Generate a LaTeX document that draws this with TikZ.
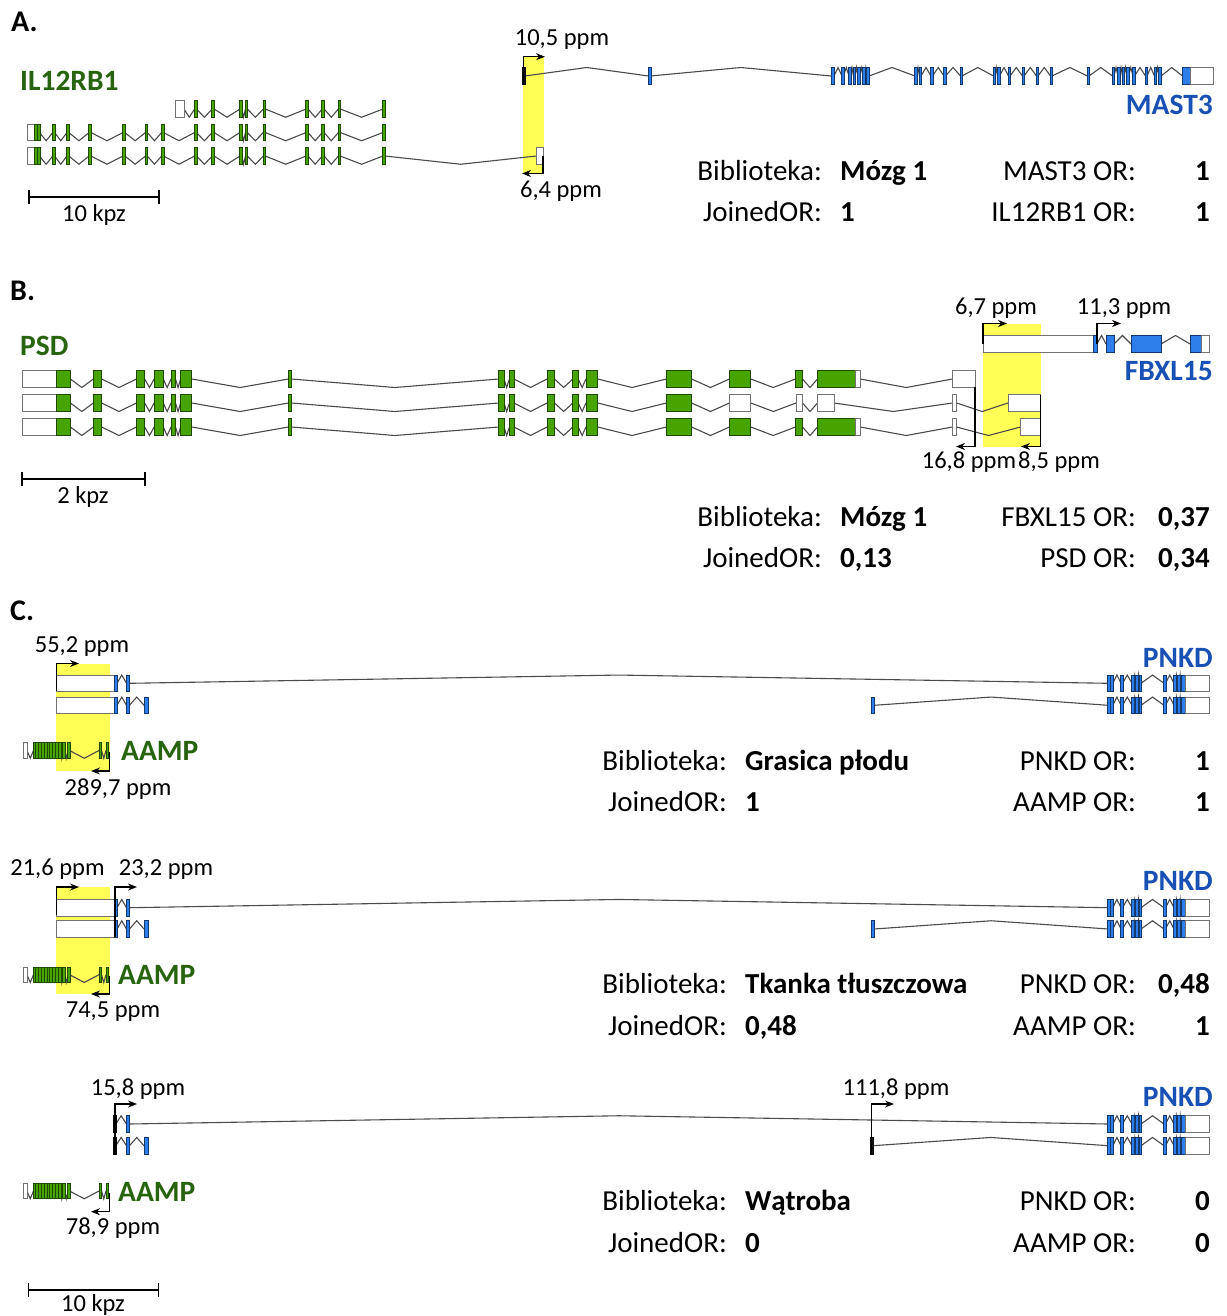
\documentclass[tikz,border=0pt]{standalone}
\usepackage{fontspec}
\setmainfont{Carlito}
\usetikzlibrary{arrows.meta}
\definecolor{cg}{RGB}{71,163,0}
\definecolor{cb}{RGB}{45,125,235}
\definecolor{cw}{RGB}{255,255,255}
\definecolor{ck}{RGB}{20,20,20}
\definecolor{gtext}{RGB}{40,100,15}
\definecolor{btext}{RGB}{25,80,180}
\definecolor{yel}{RGB}{255,255,85}
\definecolor{introncol}{RGB}{75,75,75}
\tikzset{
  intron/.style={draw=introncol, line width=1.1pt},
  exon/.style={line width=0.7pt},
  tss/.style={draw=black, line width=1.4pt, -{Stealth[length=9pt,width=7pt]}},
  tab/.style={font=\fontsize{29}{34}\selectfont, inner sep=0pt},
  tabb/.style={font=\fontsize{29}{34}\selectfont\bfseries, inner sep=0pt},
  ppm/.style={font=\fontsize{24.5}{29}\selectfont, inner sep=0pt},
  gname/.style={font=\fontsize{29.5}{34}\selectfont\bfseries, inner sep=0pt, text=gtext},
  bname/.style={font=\fontsize{29.5}{34}\selectfont\bfseries, inner sep=0pt, text=btext},
  sec/.style={font=\fontsize{30}{34}\selectfont\bfseries, inner sep=0pt},
  sbar/.style={line width=1.4pt},
  hilite/.style={fill=yel, draw=none}
}
% #1 centre y, #2 height, #3 direction of intron apex (1 down, -1 up), #4 exon list a/b/colour
\newcommand\tx[4]{%
  \edef\txlist{#4}%
  \gdef\txprev{}%
  \foreach \xa/\xb/\xc in \txlist {%
    \ifx\txprev\empty\else
      \pgfmathtruncatemacro\txok{(\xa-\txprev)>0.3}%
      \ifnum\txok=1
        \draw[intron] (\txprev,#1) -- ({(\txprev+\xa)/2},{#1+(#3)*#2/2}) -- (\xa,#1);
      \fi
    \fi
    \xdef\txprev{\xb}%
  }%
  \foreach \xa/\xb/\xc in \txlist {%
    \pgfmathsetmacro\xl{min(\xa,(\xa+\xb)/2-1.4)}%
    \pgfmathsetmacro\xr{max(\xb,(\xa+\xb)/2+1.4)}%
    \draw[exon, fill=\xc, draw=\xc!45!black] (\xl,{#1-#2/2}) rectangle (\xr,{#1+#2/2});
  }%
}
\def\ilcore{194.6/196.4/cg, 212.3/214.1/cg, 240/241.8/cg, 245.5/247.3/cg, 263.4/265.2/cg, 306.2/308/cg, 322.3/324.1/cg, 338.4/340.2/cg, 383/384.8/cg}
\def\ilfull{27/34/cw, 35.3/36.9/cg, 37.9/39.5/cg, 52.8/54.6/cg, 67/68.8/cg, 89.1/90.9/cg, 123/124.8/cg, 145.5/147.3/cg, 161.6/163.4/cg, \ilcore}
\def\mast{522.5/525/ck, 648.5/650.5/cb, 831/834/cb, 842/843.5/cb, 849/850.5/cb, 853.5/855/cb, 858/859.5/cb, 863/864.5/cb, 867/869/cb, 915/916.5/cb, 919.5/921/cb, 931/932.5/cb, 944/945.5/cb, 960.5/962/cb, 993.5/995/cb, 997.5/999.5/cb, 1008.5/1010/cb, 1022.5/1024/cb, 1036.5/1038/cb, 1050.5/1052/cb, 1087.5/1089/cb, 1112.5/1114/cb, 1118/1119.5/cb, 1122.5/1124/cb, 1127/1128.5/cb, 1133/1134.5/cb, 1145.5/1147/cb, 1154.5/1156/cb, 1159/1161/cb, 1182.5/1190/cb, 1190/1213/cw}
\def\psdcore{22.5/56.5/cw, 56.5/70.4/cg, 93.3/101.6/cg, 136.4/144.7/cg, 154.2/163.2/cg, 171.1/175.5/cg, 180.6/191.7/cg, 288.5/291.3/cg, 498.6/504/cg, 509.4/514/cg, 547/554.5/cg, 572.8/578.2/cg, 586/597.6/cg, 666.5/691.5/cg}
\def\pnkdR{1108.3/1109.8/cb, 1111.3/1112.8/cb, 1121/1122.5/cb, 1132/1133.5/cb, 1136/1137.5/cb, 1139.5/1141/cb, 1164/1165.5/cb, 1174/1175.5/cb, 1177.8/1179.3/cb, 1181/1185/cb, 1185/1209/cw}
\def\aamp{23/27/cw, 33.5/35/cg, 36.3/37.8/cg, 39.1/40.6/cg, 41.9/43.4/cg, 44.7/46.2/cg, 47.5/49/cg, 50.3/51.8/cg, 53.1/54.6/cg, 56/57.5/cg, 59/60.5/cg, 63/64.5/cg, 68/69.5/cg, 99/101.5/cg, 106/108.5/cg}
\begin{document}
\begin{tikzpicture}[x=1pt,y=-1pt]
\useasboundingbox (0,0) rectangle (1226,1316);
\fill[white] (0,0) rectangle (1226,1316);

% ---------------- A ----------------
\fill[hilite] (522.5,56) rectangle (544,174);
\tx{109}{16.5}{1}{175/184/cw, \ilcore}
\tx{132.5}{16.5}{1}{\ilfull}
\tx{156}{16.5}{1}{\ilfull, 536.5/543/cw}
\tx{76}{17}{-1}{\mast}
\draw[tss] (523.5,85) |- (545,56.7);
\draw[tss] (543,156) |- (522,173.5);
\node[sec, anchor=base west] (lA) at (11,32) {A.};
\node[gname, anchor=base west] (nIL) at (20,91) {IL12RB1};
\node[bname, anchor=base east] (nMAST) at (1213,115) {MAST3};
\node[ppm, anchor=base] (p105) at (562,46) {10,5 ppm};
\node[ppm, anchor=base] (p64) at (561,197) {6,4 ppm};
\draw[sbar] (29,190) -- (29,204) (29,197) -- (159,197) (159,190) -- (159,204);
\node[ppm, anchor=base] (kA) at (94,221) {10 kpz};
\node[tab, anchor=base east] (a1) at (822,181) {Biblioteka:};
\node[tabb, anchor=base west] (a2) at (840,181) {Mózg 1};
\node[tab, anchor=base east] (a3) at (1136,181) {MAST3 OR:};
\node[tabb, anchor=base east] (a4) at (1210,181) {1};
\node[tab, anchor=base east] (a5) at (822,222) {JoinedOR:};
\node[tabb, anchor=base west] (a6) at (840,222) {1};
\node[tab, anchor=base east] (a7) at (1136,222) {IL12RB1 OR:};
\node[tabb, anchor=base east] (a8) at (1210,222) {1};

% ---------------- B ----------------
\fill[hilite] (982.5,323.5) rectangle (1040.5,446.5);
\tx{379}{17}{1}{\psdcore, 729.5/750.8/cg, 795.5/802.5/cg, 817.5/855.5/cg, 855.5/860/cw, 952.5/975/cw}
\tx{403}{17}{1}{\psdcore, 729.5/750.8/cw, 796/802.5/cw, 817.5/834/cw, 952.5/956.5/cw, 1008/1040/cw}
\tx{427}{17}{1}{\psdcore, 729.5/750.8/cg, 795.5/802.5/cg, 817.5/855.5/cg, 855.5/860/cw, 952.5/956.5/cw, 1020.5/1040/cw}
\tx{344}{17}{-1}{983/1093/cw, 1093/1097/cb, 1106/1114/cb, 1131/1161/cb, 1190/1201/cb, 1201/1209/cw}
\draw[tss] (983,344) |- (1007,323.5);
\draw[tss] (1097,344) |- (1121,323.5);
\draw[tss] (975,387) |- (956,446.5);
\draw[tss] (1040.3,395) |- (1021,446.5);
\node[sec, anchor=base west] (lB) at (10,300) {B.};
\node[gname, anchor=base west] (nPSD) at (20,355) {PSD};
\node[bname, anchor=base east] (nFB) at (1213,380) {FBXL15};
\node[ppm, anchor=base] (p67) at (996,314) {6,7 ppm};
\node[ppm, anchor=base] (p113) at (1124,314) {11,3 ppm};
\node[ppm, anchor=base] (p168) at (969,468) {16,8 ppm};
\node[ppm, anchor=base] (p85) at (1059,468) {8,5 ppm};
\draw[sbar] (22,472) -- (22,486) (22,479) -- (145,479) (145,472) -- (145,486);
\node[ppm, anchor=base] (kB) at (83,503) {2 kpz};
\node[tab, anchor=base east] (b1) at (822,526) {Biblioteka:};
\node[tabb, anchor=base west] (b2) at (840,526) {Mózg 1};
\node[tab, anchor=base east] (b3) at (1136,526) {FBXL15 OR:};
\node[tabb, anchor=base east] (b4) at (1210,526) {0,37};
\node[tab, anchor=base east] (b5) at (822,567) {JoinedOR:};
\node[tabb, anchor=base west] (b6) at (840,567) {0,13};
\node[tab, anchor=base east] (b7) at (1136,567) {PSD OR:};
\node[tabb, anchor=base east] (b8) at (1210,567) {0,34};

% ---------------- C ----------------
\node[sec, anchor=base west] (lC) at (10,620) {C.};
% C1
\fill[hilite] (56,663.5) rectangle (110,771);
\tx{683.3}{16.5}{-1}{56.7/115/cw, 115/117/cb, 126.5/129.5/cb, \pnkdR}
\tx{705.3}{16.5}{-1}{56.7/115/cw, 115/117/cb, 126.5/129.5/cb, 144/148.3/cb}
\tx{705.3}{16.5}{-1}{871.7/874/cb, \pnkdR}
\tx{750.5}{15.5}{1}{\aamp}
\draw[tss] (56.7,691) |- (79,663.5);
\draw[tss] (109.5,752) |- (91,771);
\node[ppm, anchor=base] (p552) at (82,652) {55,2 ppm};
\node[bname, anchor=base east] (nP1) at (1213,667) {PNKD};
\node[gname, anchor=base west] (nA1) at (121,760) {AAMP};
\node[ppm, anchor=base] (p2897) at (118,795) {289,7 ppm};
\node[tab, anchor=base east] (c1) at (727,770) {Biblioteka:};
\node[tabb, anchor=base west] (c2) at (745,770) {Grasica płodu};
\node[tab, anchor=base east] (c3) at (1136,770) {PNKD OR:};
\node[tabb, anchor=base east] (c4) at (1210,770) {1};
\node[tab, anchor=base east] (c5) at (727,811) {JoinedOR:};
\node[tabb, anchor=base west] (c6) at (745,811) {1};
\node[tab, anchor=base east] (c7) at (1136,811) {AAMP OR:};
\node[tabb, anchor=base east] (c8) at (1210,811) {1};
% C2
\fill[hilite] (56,887) rectangle (110,994);
\tx{907.7}{16.5}{-1}{56.7/115/cw, 115/117/cb, 126.5/129.5/cb, \pnkdR}
\tx{929}{16.5}{-1}{56.7/115/cw, 115/117/cb, 126.5/129.5/cb, 144/148.3/cb}
\tx{929}{16.5}{-1}{871.7/874/cb, \pnkdR}
\tx{974.7}{15.5}{1}{\aamp}
\draw[tss] (56.7,915) |- (79,887);
\draw[tss] (115,937) |- (137,887);
\draw[tss] (109.5,976) |- (91,994);
\node[ppm, anchor=base] (p216) at (57.5,875) {21,6 ppm};
\node[ppm, anchor=base] (p232) at (166,875) {23,2 ppm};
\node[bname, anchor=base east] (nP2) at (1213,890) {PNKD};
\node[gname, anchor=base west] (nA2) at (118,984) {AAMP};
\node[ppm, anchor=base] (p745) at (113,1017) {74,5 ppm};
\node[tab, anchor=base east] (d1) at (727,993) {Biblioteka:};
\node[tabb, anchor=base west] (d2) at (745,993) {Tkanka tłuszczowa};
\node[tab, anchor=base east] (d3) at (1136,993) {PNKD OR:};
\node[tabb, anchor=base east] (d4) at (1210,993) {0,48};
\node[tab, anchor=base east] (d5) at (727,1035) {JoinedOR:};
\node[tabb, anchor=base west] (d6) at (745,1035) {0,48};
\node[tab, anchor=base east] (d7) at (1136,1035) {AAMP OR:};
\node[tabb, anchor=base east] (d8) at (1210,1035) {1};
% C3
\tx{1124}{16.5}{-1}{114.3/115.8/ck, 126.5/129.5/cb, \pnkdR}
\tx{1145.7}{16.5}{-1}{114.3/115.8/ck, 126.5/129.5/cb, 144/148.3/cb}
\tx{1145.7}{16.5}{-1}{870.5/873/ck, \pnkdR}
\tx{1191}{15.5}{1}{\aamp}
\draw[tss] (115,1154) |- (137,1104);
\draw[tss] (871.7,1154) |- (894,1104);
\draw[tss] (109.5,1193) |- (91,1211.7);
\node[ppm, anchor=base] (p158) at (138,1095) {15,8 ppm};
\node[ppm, anchor=base] (p1118) at (896,1095) {111,8 ppm};
\node[bname, anchor=base east] (nP3) at (1213,1106) {PNKD};
\node[gname, anchor=base west] (nA3) at (118,1201) {AAMP};
\node[ppm, anchor=base] (p789) at (113,1234) {78,9 ppm};
\node[tab, anchor=base east] (e1) at (727,1210) {Biblioteka:};
\node[tabb, anchor=base west] (e2) at (745,1210) {Wątroba};
\node[tab, anchor=base east] (e3) at (1136,1210) {PNKD OR:};
\node[tabb, anchor=base east] (e4) at (1210,1210) {0};
\node[tab, anchor=base east] (e5) at (727,1252) {JoinedOR:};
\node[tabb, anchor=base west] (e6) at (745,1252) {0};
\node[tab, anchor=base east] (e7) at (1136,1252) {AAMP OR:};
\node[tabb, anchor=base east] (e8) at (1210,1252) {0};
\draw[sbar] (28.3,1283) -- (28.3,1297) (28.3,1290) -- (158.3,1290) (158.3,1283) -- (158.3,1297);
\node[ppm, anchor=base] (kC) at (93,1311) {10 kpz};
\end{tikzpicture}
\end{document}
